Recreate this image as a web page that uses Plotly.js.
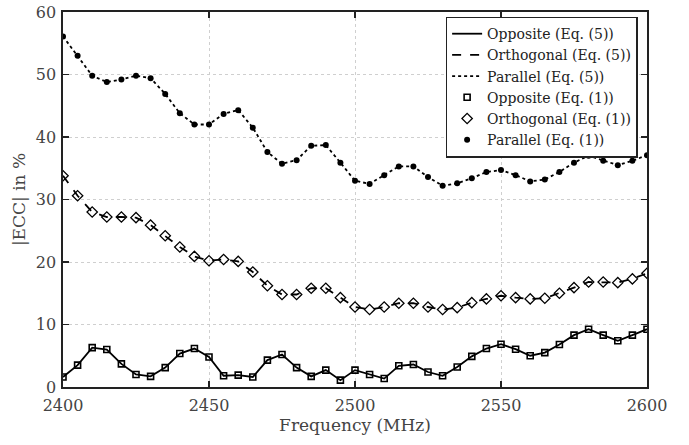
<!DOCTYPE html>
<html><head><meta charset="utf-8">
<script src="https://cdn.plot.ly/plotly-3.0.1.min.js"></script>
<style>html,body{margin:0;padding:0;background:#fff}#c{width:689px;height:445px}</style>
</head><body><div id="c"></div>
<script>
const freq = [2400,2405,2410,2415,2420,2425,2430,2435,2440,2445,2450,2455,2460,2465,2470,2475,2480,2485,2490,2495,2500,2505,2510,2515,2520,2525,2530,2535,2540,2545,2550,2555,2560,2565,2570,2575,2580,2585,2590,2595,2600];
const opposite = [1.6,3.5,6.3,6.0,3.7,2.0,1.7,3.1,5.35,6.15,4.8,1.8,1.9,1.6,4.3,5.2,3.1,1.7,2.7,1.1,2.7,2.0,1.35,3.4,3.6,2.4,1.8,3.2,4.9,6.15,6.85,6.05,5.0,5.5,6.8,8.3,9.25,8.3,7.4,8.3,9.25];
const orthogonal = [33.8,30.6,28.0,27.2,27.2,27.1,25.9,24.2,22.4,20.9,20.2,20.4,20.1,18.4,16.2,14.8,14.8,15.8,15.8,14.3,12.8,12.4,12.8,13.4,13.4,12.8,12.4,12.7,13.5,14.1,14.6,14.3,14.1,14.2,15.0,15.9,16.8,16.8,16.7,17.3,18.2];
const parallel = [56.1,53.0,49.8,48.8,49.2,49.8,49.4,46.9,43.8,42.0,42.0,43.7,44.3,41.5,37.6,35.7,36.3,38.6,38.7,35.9,33.0,32.5,33.9,35.3,35.3,33.6,32.2,32.6,33.4,34.4,34.7,33.9,32.9,33.2,34.4,35.9,37.0,36.2,35.5,36.2,37.1];
const names = ['Opposite (Eq. (5))','Orthogonal (Eq. (5))','Parallel (Eq. (5))','Opposite (Eq. (1))','Orthogonal (Eq. (1))','Parallel (Eq. (1))'];

const font = "'DejaVu Serif', serif";
const traces = [
  {x:freq,y:opposite,mode:'lines',name:names[0],line:{color:'#000',width:1.8,dash:'solid'}},
  {x:freq,y:orthogonal,mode:'lines',name:names[1],line:{color:'#000',width:1.8,dash:'dash'}},
  {x:freq,y:parallel,mode:'lines',name:names[2],line:{color:'#000',width:1.8,dash:'dot'}},
  {x:freq,y:opposite,mode:'markers',name:names[3],marker:{symbol:'square-open',size:6,color:'#000',line:{width:1.6,color:'#000'}}},
  {x:freq,y:orthogonal,mode:'markers',name:names[4],marker:{symbol:'diamond-open',size:8,color:'#000',line:{width:1.3,color:'#000'}}},
  {x:freq,y:parallel,mode:'markers',name:names[5],marker:{symbol:'circle',size:6,color:'#000'}}
];
const axisCommon = {
  showline:true, linecolor:'#222', linewidth:1.6, mirror:'ticks',
  ticks:'inside', ticklen:6, tickwidth:1.6, tickcolor:'#222',
  showgrid:true, gridcolor:'#cfcfcf', griddash:'dot', gridwidth:1,
  zeroline:false, tickfont:{family:font,size:16,color:'#444'}
};
const layout = {
  width:689, height:445,
  margin:{l:63,r:42,t:12,b:58},
  paper_bgcolor:'#fff', plot_bgcolor:'#fff',
  font:{family:font,size:16,color:'#444'},
  xaxis:Object.assign({}, axisCommon, {range:[2400,2600], tickvals:[2400,2450,2500,2550,2600], ticklabelstandoff:3,
    title:{text:'Frequency (MHz)', font:{family:font,size:17,color:'#444'}, standoff:4}}),
  yaxis:Object.assign({}, axisCommon, {range:[0,60], tickvals:[0,10,20,30,40,50,60], ticklabelstandoff:2,
    title:{text:'|ECC| in %', font:{family:font,size:17,color:'#444'}, standoff:6}}),
  showlegend:true,
  legend:{x:0.655,y:0.988,xanchor:'left',yanchor:'top',bgcolor:'#fff',bordercolor:'#222',borderwidth:1.6,
    font:{family:font,size:14,color:'#222'},tracegroupgap:0,itemwidth:30}
};
Plotly.newPlot('c', traces, layout, {displayModeBar:false, staticPlot:true});
</script></body></html>
